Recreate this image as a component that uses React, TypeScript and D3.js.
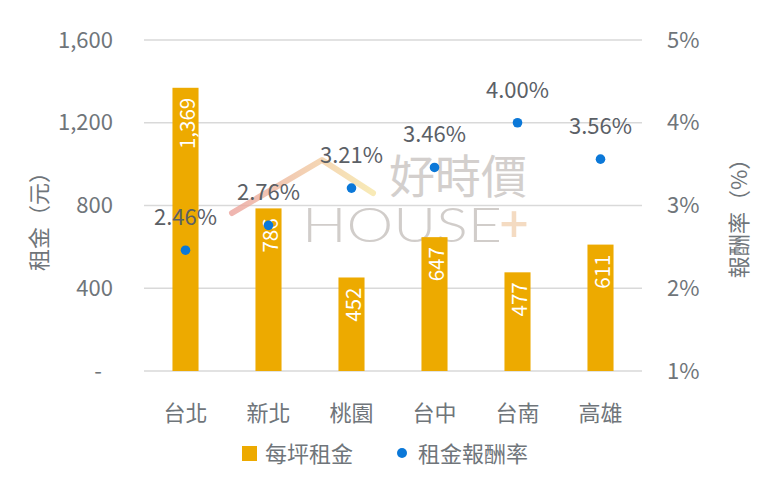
import { useRef, useEffect } from 'react';
import * as d3 from 'd3';

const CITIES = ['台北', '新北', '桃園', '台中', '台南', '高雄'];
const RENT = [1369, 786, 452, 647, 477, 611];
const YIELD = [2.46, 2.76, 3.21, 3.46, 4.0, 3.56];
const RENT_TICKS = [0, 400, 800, 1200, 1600];
const YIELD_TICKS = [1, 2, 3, 4, 5];

const W = 777;
const H = 488;
const PLOT = { left: 144, right: 642, top: 40, bottom: 371 };
const FONT = '"Noto Sans CJK TC", "Noto Sans", sans-serif';
const BAR_COLOR = '#edaa00';
const DOT_COLOR = '#0b78d8';
const AXIS_TEXT = '#6f757a';
const LABEL_TEXT = '#5b6066';
const GRID = '#d9d9d9';
const FS = 22;

export default function App() {
  const svgRef = useRef<SVGSVGElement>(null);

  useEffect(() => {
    const svg = d3.select(svgRef.current!);
    svg.selectAll('*').remove();

    const x = d3
      .scaleBand<string>()
      .domain(CITIES)
      .range([PLOT.left, PLOT.right])
      .paddingInner(0.686)
      .paddingOuter(0.343);
    const yL = d3.scaleLinear().domain([0, 1600]).range([PLOT.bottom, PLOT.top]);
    const yR = d3.scaleLinear().domain([1, 5]).range([PLOT.bottom, PLOT.top]);

    // gridlines
    svg
      .append('g')
      .selectAll('line')
      .data(RENT_TICKS)
      .join('line')
      .attr('x1', PLOT.left)
      .attr('x2', PLOT.right)
      .attr('y1', (d) => yL(d))
      .attr('y2', (d) => yL(d))
      .attr('stroke', GRID)
      .attr('stroke-width', 1.3);

    // watermark
    const defs = svg.append('defs');
    const grad = defs
      .append('linearGradient')
      .attr('id', 'roof')
      .attr('x1', '0%')
      .attr('x2', '100%');
    grad.append('stop').attr('offset', '0%').attr('stop-color', '#eba39c');
    grad.append('stop').attr('offset', '100%').attr('stop-color', '#f7e6a6');
    const wm = svg.append('g').attr('opacity', 0.8);
    wm.append('polyline')
      .attr('points', '232,213 322,160 373,193')
      .attr('fill', 'none')
      .attr('stroke', 'url(#roof)')
      .attr('stroke-width', 6)
      .attr('stroke-linecap', 'round')
      .attr('stroke-linejoin', 'round');
    wm.append('line')
      .attr('x1', 283)
      .attr('x2', 350)
      .attr('y1', 255)
      .attr('y2', 255)
      .attr('stroke', 'url(#roof)')
      .attr('stroke-width', 3)
      .attr('stroke-linecap', 'round');
    wm.append('text')
      .attr('x', 389)
      .attr('y', 193)
      .attr('font-family', FONT)
      .attr('font-size', 46)
      .attr('fill', '#c9c4c1')
      .text('好時價');
    wm.append('text')
      .attr('x', 302)
      .attr('y', 242)
      .attr('font-family', 'Lato, "Open Sans", sans-serif')
      .attr('font-size', 47)
      .attr('font-weight', 300)
      .attr('textLength', 200)
      .attr('lengthAdjust', 'spacingAndGlyphs')
      .attr('fill', '#c6c1be')
      .text('HOUSE');
    wm.append('text')
      .attr('x', 514)
      .attr('y', 243)
      .attr('text-anchor', 'middle')
      .attr('font-family', FONT)
      .attr('font-size', 50)
      .attr('font-weight', 500)
      .attr('fill', '#f2d3b3')
      .text('+');

    // bars
    svg
      .append('g')
      .selectAll('rect')
      .data(RENT)
      .join('rect')
      .attr('x', (_d, i) => x(CITIES[i])!)
      .attr('y', (d) => yL(d))
      .attr('width', x.bandwidth())
      .attr('height', (d) => yL(0) - yL(d))
      .attr('fill', BAR_COLOR);

    // bar labels (rotated, inside end)
    svg
      .append('g')
      .selectAll('text')
      .data(RENT)
      .join('text')
      .attr('transform', (d, i) => {
        const cx = x(CITIES[i])! + x.bandwidth() / 2;
        return `translate(${cx},${yL(d) + 10}) rotate(-90)`;
      })
      .attr('text-anchor', 'end')
      .attr('dominant-baseline', 'central')
      .attr('font-family', FONT)
      .attr('font-size', 20.5)
      .attr('fill', '#ffffff')
      .text((d) => d3.format(',')(d));

    // yield dots
    svg
      .append('g')
      .selectAll('circle')
      .data(YIELD)
      .join('circle')
      .attr('cx', (_d, i) => x(CITIES[i])! + x.bandwidth() / 2)
      .attr('cy', (d) => yR(d))
      .attr('r', 4.8)
      .attr('fill', DOT_COLOR);

    svg
      .append('g')
      .selectAll('text')
      .data(YIELD)
      .join('text')
      .attr('x', (_d, i) => x(CITIES[i])! + x.bandwidth() / 2)
      .attr('y', (d) => yR(d) - 25)
      .attr('text-anchor', 'middle')
      .attr('font-family', FONT)
      .attr('font-size', FS)
      .attr('fill', LABEL_TEXT)
      .text((d) => `${d.toFixed(2)}%`);

    // left axis
    svg
      .append('g')
      .selectAll('text')
      .data(RENT_TICKS)
      .join('text')
      .attr('x', (d) => (d === 0 ? 102 : 113))
      .attr('y', (d) => yL(d))
      .attr('dy', '0.35em')
      .attr('text-anchor', 'end')
      .attr('font-family', FONT)
      .attr('font-size', FS)
      .attr('fill', AXIS_TEXT)
      .text((d) => (d === 0 ? '-' : d3.format(',')(d)));

    // right axis
    svg
      .append('g')
      .selectAll('text')
      .data(YIELD_TICKS)
      .join('text')
      .attr('x', 667)
      .attr('y', (d) => yR(d))
      .attr('dy', '0.35em')
      .attr('font-family', FONT)
      .attr('font-size', FS)
      .attr('fill', AXIS_TEXT)
      .text((d) => `${d}%`);

    // categories
    svg
      .append('g')
      .selectAll('text')
      .data(CITIES)
      .join('text')
      .attr('x', (d) => x(d)! + x.bandwidth() / 2)
      .attr('y', 413)
      .attr('dy', '0.35em')
      .attr('text-anchor', 'middle')
      .attr('font-family', FONT)
      .attr('font-size', FS)
      .attr('fill', AXIS_TEXT)
      .text((d) => d);

    // axis titles
    svg
      .append('text')
      .attr('transform', 'translate(37,216) rotate(-90)')
      .attr('text-anchor', 'middle')
      .attr('dominant-baseline', 'central')
      .attr('font-family', FONT)
      .attr('font-size', FS)
      .attr('fill', AXIS_TEXT)
      .text('租金（元）');
    svg
      .append('text')
      .attr('transform', 'translate(737,213) rotate(-90)')
      .attr('text-anchor', 'middle')
      .attr('dominant-baseline', 'central')
      .attr('font-family', FONT)
      .attr('font-size', FS)
      .attr('fill', AXIS_TEXT)
      .text('報酬率（%）');

    // legend
    const lg = svg.append('g').attr('font-family', FONT).attr('font-size', FS).attr('fill', AXIS_TEXT);
    lg.append('rect').attr('x', 242).attr('y', 446).attr('width', 15).attr('height', 15).attr('fill', BAR_COLOR);
    lg.append('text').attr('x', 265).attr('y', 454).attr('dy', '0.35em').text('每坪租金');
    lg.append('circle').attr('cx', 402).attr('cy', 453).attr('r', 5).attr('fill', DOT_COLOR);
    lg.append('text').attr('x', 418).attr('y', 454).attr('dy', '0.35em').text('租金報酬率');
  }, []);

  return (
    <svg
      ref={svgRef}
      width={W}
      height={H}
      style={{ position: 'absolute', left: 0, top: 0, background: '#fff' }}
    />
  );
}
